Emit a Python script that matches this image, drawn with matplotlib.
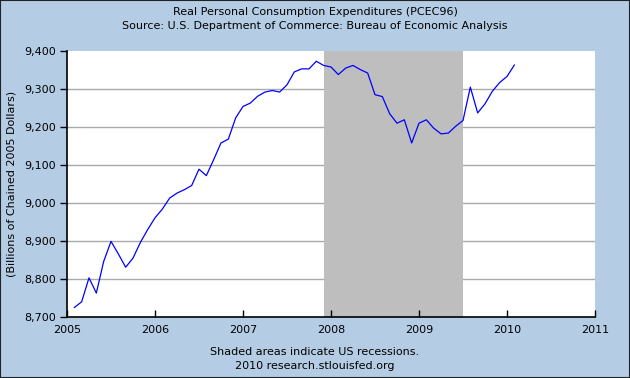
import matplotlib
matplotlib.use("Agg")
import matplotlib.pyplot as plt
from matplotlib.ticker import FuncFormatter

# Monthly data, Jan 2005 .. Jan 2010 (billions of chained 2005 dollars)
start_year = 2005
values = [
    8725, 8740, 8803, 8763, 8846, 8899, 8866, 8831, 8855, 8896, 8930, 8961,   # 2005
    8984, 9013, 9026, 9035, 9046, 9089, 9072, 9114, 9158, 9168, 9224, 9254,   # 2006
    9263, 9281, 9292, 9296, 9292, 9311, 9345, 9353, 9353, 9373, 9362, 9358,   # 2007
    9338, 9355, 9362, 9351, 9342, 9285, 9280, 9235, 9210, 9219, 9158, 9210,   # 2008
    9219, 9197, 9182, 9184, 9202, 9217, 9305, 9237, 9261, 9294, 9317, 9333,   # 2009
    9363,                                                                     # 2010
]
recession_start = 2007 + 11 / 12   # Dec 2007
recession_end = 2009 + 6 / 12      # Jul 2009

x_ticks = [2005, 2006, 2007, 2008, 2009, 2010, 2011]
y_ticks = [8700, 8800, 8900, 9000, 9100, 9200, 9300, 9400]

title_lines = ["Real Personal Consumption Expenditures (PCEC96)",
               "Source: U.S. Department of Commerce: Bureau of Economic Analysis"]
footer_lines = ["Shaded areas indicate US recessions.",
                "2010 research.stlouisfed.org"]
ylabel = "(Billions of Chained 2005 Dollars)"

xs = [start_year + (i + 1) / 12 for i in range(len(values))]

bg = "#B4CDE5"
plt.rcParams["font.family"] = ["DejaVu Sans"]

fig = plt.figure(figsize=(6.3, 3.78), dpi=100, facecolor=bg)
W, H = 630, 378
ax = fig.add_axes([67 / W, 1 - 317 / H, (595 - 67) / W, (317 - 51) / H])
ax.set_facecolor("white")

ax.axvspan(recession_start, recession_end, color="#BEBEBE", lw=0, zorder=1)
for yv in y_ticks[1:-1]:
    ax.axhline(yv, color="#AAAAAA", lw=1.0, zorder=0.5)
ax.plot(xs, values, color="#0000FF", lw=0.9, zorder=3)

ax.set_xlim(x_ticks[0], x_ticks[-1])
ax.set_ylim(y_ticks[0], y_ticks[-1])
ax.set_xticks(x_ticks)
ax.set_yticks(y_ticks)
ax.yaxis.set_major_formatter(FuncFormatter(lambda v, p: f"{int(v):,}"))
ax.tick_params(axis="x", direction="in", length=5, width=1, labelsize=8, pad=6, colors="black")
ax.tick_params(axis="y", direction="out", length=5, width=1, labelsize=8, pad=3, colors="black")
for s in ["top", "right"]:
    ax.spines[s].set_visible(False)
for s in ["left", "bottom"]:
    ax.spines[s].set_color("black")
    ax.spines[s].set_linewidth(1.2)

ax.set_ylabel(ylabel, fontsize=8)
ax.yaxis.set_label_coords((17 - 67) / (595 - 67), 0.5)

fig.text(0.5, 1 - 12 / H, title_lines[0], ha="center", va="center", fontsize=8)
fig.text(0.5, 1 - 26 / H, title_lines[1], ha="center", va="center", fontsize=8)
fig.text(0.5, 1 - 352 / H, footer_lines[0], ha="center", va="center", fontsize=8)
fig.text(0.5, 1 - 366 / H, footer_lines[1], ha="center", va="center", fontsize=8)

# dark border around the figure
fig.patches.append(plt.Rectangle((0, 0), 1, 1, transform=fig.transFigure,
                                 fill=False, edgecolor="#222222", lw=1.5))

fig.savefig("out.png", dpi=100, facecolor=bg)
